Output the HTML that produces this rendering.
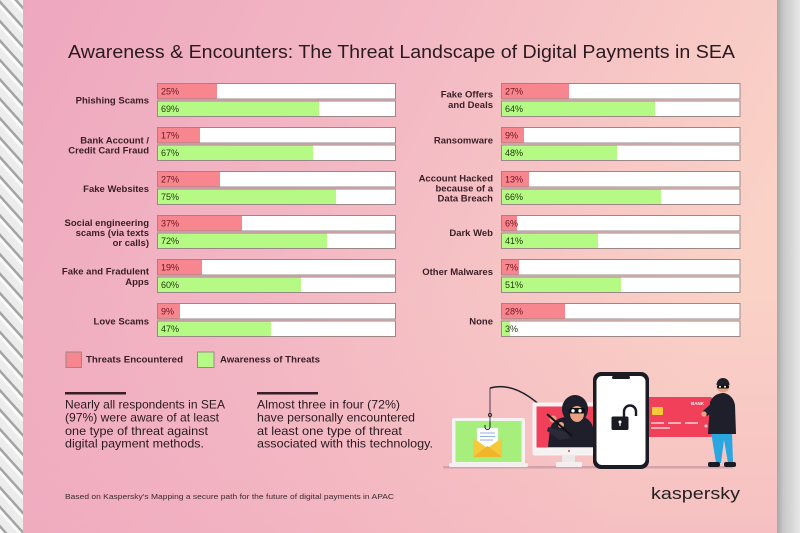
<!DOCTYPE html>
<html>
<head>
<meta charset="utf-8">
<style>
html,body{margin:0;padding:0;width:800px;height:533px;overflow:hidden;background:#ddd;}
svg{display:block;}
text{font-family:"Liberation Sans",sans-serif;}
.lbl{font-size:9.5px;font-weight:bold;fill:#3a1e26;text-anchor:end;}
.pr{font-size:9px;fill:#6e1422;}
.pg{font-size:9px;fill:#1f380c;}
.body{font-size:12px;fill:#2a1a20;}
</style>
</head>
<body>
<svg width="800" height="533" viewBox="0 0 800 533" xmlns="http://www.w3.org/2000/svg">
<defs>
  <linearGradient id="bg" x1="0" y1="0" x2="1" y2="0.35">
    <stop offset="0" stop-color="#eea7bf"/>
    <stop offset="0.5" stop-color="#f3b9c4"/>
    <stop offset="1" stop-color="#fad2c6"/>
  </linearGradient>
  <linearGradient id="bgb" x1="0" y1="0" x2="0" y2="1">
    <stop offset="0.55" stop-color="#f0a0bc" stop-opacity="0"/>
    <stop offset="1" stop-color="#ee9fba" stop-opacity="0.35"/>
  </linearGradient>
  <pattern id="stripes" patternUnits="userSpaceOnUse" width="13" height="13" patternTransform="rotate(48)">
    <rect width="13" height="13" fill="#ececec"/>
    <rect width="13" height="2.5" fill="#a4a4a4"/>
    <rect y="2.5" width="13" height="3" fill="#fbfbfb"/>
  </pattern>
  <linearGradient id="rgt" x1="0" y1="0" x2="1" y2="0">
    <stop offset="0" stop-color="#a2a2a2"/>
    <stop offset="0.3" stop-color="#c8c8c8"/>
    <stop offset="1" stop-color="#e6e6e6"/>
  </linearGradient>
</defs>

<!-- side backgrounds -->
<rect x="0" y="0" width="24" height="533" fill="url(#stripes)"/>
<rect x="776" y="0" width="24" height="533" fill="url(#rgt)"/>

<!-- poster -->
<rect x="23" y="0" width="754" height="533" fill="url(#bg)"/>
<rect x="23" y="0" width="754" height="533" fill="url(#bgb)"/>

<!-- title -->
<text x="68" y="58" font-size="18" fill="#2a1a20" textLength="667" lengthAdjust="spacingAndGlyphs">Awareness &amp; Encounters: The Threat Landscape of Digital Payments in SEA</text>

<!-- LEFT CHART -->
<g stroke="#9a8888" stroke-width="1" fill="#ffffff">
  <rect x="157.5" y="83.5" width="238" height="15.5"/>
  <rect x="157.5" y="101" width="238" height="15.5"/>
  <rect x="157.5" y="127.5" width="238" height="15.5"/>
  <rect x="157.5" y="145" width="238" height="15.5"/>
  <rect x="157.5" y="171.5" width="238" height="15.5"/>
  <rect x="157.5" y="189" width="238" height="15.5"/>
  <rect x="157.5" y="215.5" width="238" height="15.5"/>
  <rect x="157.5" y="233" width="238" height="15.5"/>
  <rect x="157.5" y="259.5" width="238" height="15.5"/>
  <rect x="157.5" y="277" width="238" height="15.5"/>
  <rect x="157.5" y="303.5" width="238" height="15.5"/>
  <rect x="157.5" y="321" width="238" height="15.5"/>
</g>
<g fill="#f8868f">
  <rect x="158" y="84" width="59" height="14.5"/>
  <rect x="158" y="128" width="42" height="14.5"/>
  <rect x="158" y="172" width="62" height="14.5"/>
  <rect x="158" y="216" width="84" height="14.5"/>
  <rect x="158" y="260" width="44" height="14.5"/>
  <rect x="158" y="304" width="22" height="14.5"/>
</g>
<g fill="#b4fa84">
  <rect x="158" y="101.5" width="161" height="14.5"/>
  <rect x="158" y="145.5" width="155" height="14.5"/>
  <rect x="158" y="189.5" width="178" height="14.5"/>
  <rect x="158" y="233.5" width="169" height="14.5"/>
  <rect x="158" y="277.5" width="143" height="14.5"/>
  <rect x="158" y="321.5" width="113" height="14.5"/>
</g>
<g>
  <text class="pr" x="161" y="94.5">25%</text>
  <text class="pr" x="161" y="138.5">17%</text>
  <text class="pr" x="161" y="182.5">27%</text>
  <text class="pr" x="161" y="226.5">37%</text>
  <text class="pr" x="161" y="270.5">19%</text>
  <text class="pr" x="161" y="314.5">9%</text>
</g>
<g>
  <text class="pg" x="161" y="112">69%</text>
  <text class="pg" x="161" y="156">67%</text>
  <text class="pg" x="161" y="200">75%</text>
  <text class="pg" x="161" y="244">72%</text>
  <text class="pg" x="161" y="288">60%</text>
  <text class="pg" x="161" y="332">47%</text>
</g>
<g>
  <text class="lbl" x="149" y="103.5">Phishing Scams</text>
  <text class="lbl" x="149" y="143.5">Bank Account /</text>
  <text class="lbl" x="149" y="153.5">Credit Card Fraud</text>
  <text class="lbl" x="149" y="191.8">Fake Websites</text>
  <text class="lbl" x="149" y="226">Social engineering</text>
  <text class="lbl" x="149" y="236">scams  (via texts</text>
  <text class="lbl" x="149" y="246">or calls)</text>
  <text class="lbl" x="149" y="274.5">Fake and Fradulent</text>
  <text class="lbl" x="149" y="285">Apps</text>
  <text class="lbl" x="149" y="324.5">Love Scams</text>
</g>

<!-- RIGHT CHART -->
<g stroke="#9a8888" stroke-width="1" fill="#ffffff">
  <rect x="501.5" y="83.5" width="238.5" height="15.5"/>
  <rect x="501.5" y="101" width="238.5" height="15.5"/>
  <rect x="501.5" y="127.5" width="238.5" height="15.5"/>
  <rect x="501.5" y="145" width="238.5" height="15.5"/>
  <rect x="501.5" y="171.5" width="238.5" height="15.5"/>
  <rect x="501.5" y="189" width="238.5" height="15.5"/>
  <rect x="501.5" y="215.5" width="238.5" height="15.5"/>
  <rect x="501.5" y="233" width="238.5" height="15.5"/>
  <rect x="501.5" y="259.5" width="238.5" height="15.5"/>
  <rect x="501.5" y="277" width="238.5" height="15.5"/>
  <rect x="501.5" y="303.5" width="238.5" height="15.5"/>
  <rect x="501.5" y="321" width="238.5" height="15.5"/>
</g>
<g fill="#f8868f">
  <rect x="502" y="84" width="67" height="14.5"/>
  <rect x="502" y="128" width="22" height="14.5"/>
  <rect x="502" y="172" width="27" height="14.5"/>
  <rect x="502" y="216" width="15" height="14.5"/>
  <rect x="502" y="260" width="17" height="14.5"/>
  <rect x="502" y="304" width="63" height="14.5"/>
</g>
<g fill="#b4fa84">
  <rect x="502" y="101.5" width="153" height="14.5"/>
  <rect x="502" y="145.5" width="115" height="14.5"/>
  <rect x="502" y="189.5" width="159" height="14.5"/>
  <rect x="502" y="233.5" width="96" height="14.5"/>
  <rect x="502" y="277.5" width="119" height="14.5"/>
  <rect x="502" y="321.5" width="8" height="14.5"/>
</g>
<g>
  <text class="pr" x="505" y="94.5">27%</text>
  <text class="pr" x="505" y="138.5">9%</text>
  <text class="pr" x="505" y="182.5">13%</text>
  <text class="pr" x="505" y="226.5">6%</text>
  <text class="pr" x="505" y="270.5">7%</text>
  <text class="pr" x="505" y="314.5">28%</text>
  <text class="pg" x="505" y="112">64%</text>
  <text class="pg" x="505" y="156">48%</text>
  <text class="pg" x="505" y="200">66%</text>
  <text class="pg" x="505" y="244">41%</text>
  <text class="pg" x="505" y="288">51%</text>
  <text class="pg" x="505" y="332">3%</text>
</g>
<g>
  <text class="lbl" x="493" y="97.5">Fake Offers</text>
  <text class="lbl" x="493" y="108">and Deals</text>
  <text class="lbl" x="493" y="181.5">Account Hacked</text>
  <text class="lbl" x="493" y="191.5">because of a</text>
  <text class="lbl" x="493" y="201.5">Data Breach</text>
  <text class="lbl" x="493" y="143.5">Ransomware</text>
  <text class="lbl" x="493" y="236">Dark Web</text>
  <text class="lbl" x="493" y="275">Other Malwares</text>
  <text class="lbl" x="493" y="324.5">None</text>
</g>

<!-- legend -->
<rect x="66" y="352" width="15.5" height="15.5" fill="#f8868f" stroke="#9a8888" stroke-width="1"/>
<text x="86" y="362.5" font-size="9.5" font-weight="bold" fill="#3a1e26" textLength="97" lengthAdjust="spacingAndGlyphs">Threats Encountered</text>
<rect x="197.5" y="352" width="16.5" height="15.5" fill="#b4fa84" stroke="#9a8888" stroke-width="1"/>
<text x="220" y="362.5" font-size="9.5" font-weight="bold" fill="#3a1e26" textLength="100" lengthAdjust="spacingAndGlyphs">Awareness of Threats</text>

<!-- bottom texts -->
<rect x="65" y="392" width="61" height="2.5" fill="#3a1e26"/>
<text class="body" x="65" y="408.5" textLength="160" lengthAdjust="spacingAndGlyphs">Nearly all respondents in SEA</text>
<text class="body" x="65" y="421.5" textLength="154" lengthAdjust="spacingAndGlyphs">(97%) were aware of at least</text>
<text class="body" x="65" y="435" textLength="143" lengthAdjust="spacingAndGlyphs">one type of threat against</text>
<text class="body" x="65" y="447.5" textLength="139" lengthAdjust="spacingAndGlyphs">digital payment methods.</text>

<rect x="257" y="392" width="61" height="2.5" fill="#3a1e26"/>
<text class="body" x="257" y="408.5" textLength="143" lengthAdjust="spacingAndGlyphs">Almost three in four (72%)</text>
<text class="body" x="257" y="421.5" textLength="158" lengthAdjust="spacingAndGlyphs">have personally encountered</text>
<text class="body" x="257" y="435" textLength="145" lengthAdjust="spacingAndGlyphs">at least one type of threat</text>
<text class="body" x="257" y="447.5" textLength="176" lengthAdjust="spacingAndGlyphs">associated with this technology.</text>

<text x="65" y="499" font-size="7.5" fill="#3a2a30" textLength="329" lengthAdjust="spacingAndGlyphs">Based on Kaspersky's Mapping a secure path for the future of digital payments in APAC</text>

<!-- kaspersky logo -->
<text x="651" y="499" font-size="17" fill="#231f20" textLength="89" lengthAdjust="spacingAndGlyphs">kaspersky</text>

<!-- ILLUSTRATION -->
<rect x="443" y="466" width="290" height="2.5" fill="#c99aa6" opacity="0.8"/>
<!-- laptop -->
<rect x="452" y="418" width="73" height="46" rx="2" fill="#f7f2f2"/>
<rect x="455.5" y="421" width="66" height="41" fill="#a6ef7c"/>
<rect x="449" y="463" width="79" height="4" rx="1.5" fill="#f4eeee"/>
<rect x="477" y="428" width="21" height="20" fill="#ffffff" stroke="#dcdcdc" stroke-width="0.5"/>
<g stroke="#8fb0e0" stroke-width="1">
  <line x1="480" y1="433" x2="495" y2="433"/>
  <line x1="480" y1="436.5" x2="495" y2="436.5"/>
  <line x1="480" y1="440" x2="493" y2="440"/>
</g>
<path d="M473,438 L487.5,448 L502,438 L502,457 L473,457 Z" fill="#f6c93a"/>
<path d="M473,457 L487.5,446 L502,457 Z" fill="#f1b52a"/>
<!-- fishing line & hook -->
<path d="M490,388 Q518,380 552,417" stroke="#1e1e28" stroke-width="1.5" fill="none"/>
<line x1="490" y1="388" x2="490" y2="422" stroke="#1e1e28" stroke-width="0.8"/>
<circle cx="490" cy="415" r="1.6" fill="none" stroke="#1e1e28" stroke-width="0.8"/>
<path d="M490,422 v5 a2.5,2.5 0 0 1 -5,0 v-2" stroke="#1e1e28" stroke-width="1" fill="none"/>
<!-- monitor -->
<rect x="532.5" y="402.5" width="62" height="53" rx="2" fill="#f7f2f2"/>
<rect x="536.5" y="406.5" width="58" height="41" fill="#f0405a"/>
<circle cx="569" cy="451" r="1" fill="#d04050"/>
<rect x="562" y="455" width="13" height="8" fill="#efe8e8"/>
<rect x="556" y="462" width="26" height="5" rx="1" fill="#f4eeee"/>
<!-- hacker -->
<path d="M548,447 L550,428 Q554,418 566,417 L584,417 Q593,421 594,432 L594,447 Z" fill="#1f1f2b"/>
<ellipse cx="575" cy="409" rx="13" ry="14" fill="#1f1f2b"/>
<ellipse cx="577" cy="414" rx="7" ry="8" fill="#e8a282"/>
<rect x="569" y="408" width="16" height="5.5" rx="2" fill="#111"/>
<circle cx="573" cy="410.8" r="1.7" fill="#fff"/>
<circle cx="580" cy="410.8" r="1.7" fill="#fff"/>
<path d="M548,427 L566,432 L570,438 L560,440 L547,431 Z" fill="#2a2a38"/>
<circle cx="553" cy="419" r="3.5" fill="#e8a282"/>
<circle cx="561" cy="425" r="3" fill="#e8a282"/>
<line x1="547" y1="414" x2="572" y2="436" stroke="#111" stroke-width="2"/>
<!-- card -->
<rect x="640" y="397" width="73" height="40" rx="3" fill="#f0405a"/>
<rect x="652" y="407" width="11" height="8" rx="1" fill="#f6c93a"/>
<g stroke="#ffd0d6" stroke-width="1.5">
  <line x1="651" y1="423" x2="664" y2="423"/>
  <line x1="668" y1="423" x2="681" y2="423"/>
  <line x1="685" y1="423" x2="698" y2="423"/>
  <line x1="651" y1="428" x2="670" y2="428"/>
</g>
<text x="691" y="405" font-size="4.5" fill="#ffffff" font-weight="bold">BANK</text>
<circle cx="706" cy="426" r="1.5" fill="#ffd0d6"/>
<!-- phone -->
<rect x="593" y="372" width="56" height="97" rx="8" fill="#1b1b24"/>
<rect x="596.5" y="376" width="49" height="89" rx="5.5" fill="#ffffff"/>
<rect x="612" y="376" width="18" height="3" rx="1.5" fill="#1b1b24"/>
<path d="M624,417 V411.5 a6,6 0 0 1 12,0 V416" stroke="#1b1b24" stroke-width="2.4" fill="none"/>
<rect x="611.5" y="416.5" width="17" height="13.5" rx="1.5" fill="#1b1b24"/>
<circle cx="620" cy="422" r="1.5" fill="#fff"/>
<rect x="619.4" y="422" width="1.2" height="4" fill="#fff"/>
<!-- thief -->
<path d="M716,463 L711,432 L732,432 L733,463 L728,463 L724,440 L721,463 Z" fill="#2aa6e0"/>
<rect x="708" y="462" width="12" height="5" rx="2" fill="#1b1b24"/>
<rect x="724" y="462" width="12" height="5" rx="2" fill="#1b1b24"/>
<path d="M708,434 L710,402 Q714,393 724,393 Q733,395 735,405 L736,434 Z" fill="#1f1f2b"/>
<path d="M712,403 L703,411 L707,416 L716,410 Z" fill="#1f1f2b"/>
<circle cx="704" cy="414" r="2.6" fill="#e8a282"/>
<circle cx="723" cy="386" r="6.5" fill="#e8a282"/>
<path d="M716.5,385 a6.5,7 0 0 1 13,0 Z" fill="#1f1f2b"/>
<rect x="717" y="385" width="12" height="3.5" rx="1.5" fill="#111"/>
<circle cx="720" cy="386.8" r="1" fill="#fff"/>
<circle cx="725" cy="386.8" r="1" fill="#fff"/>
</svg>
</body>
</html>
